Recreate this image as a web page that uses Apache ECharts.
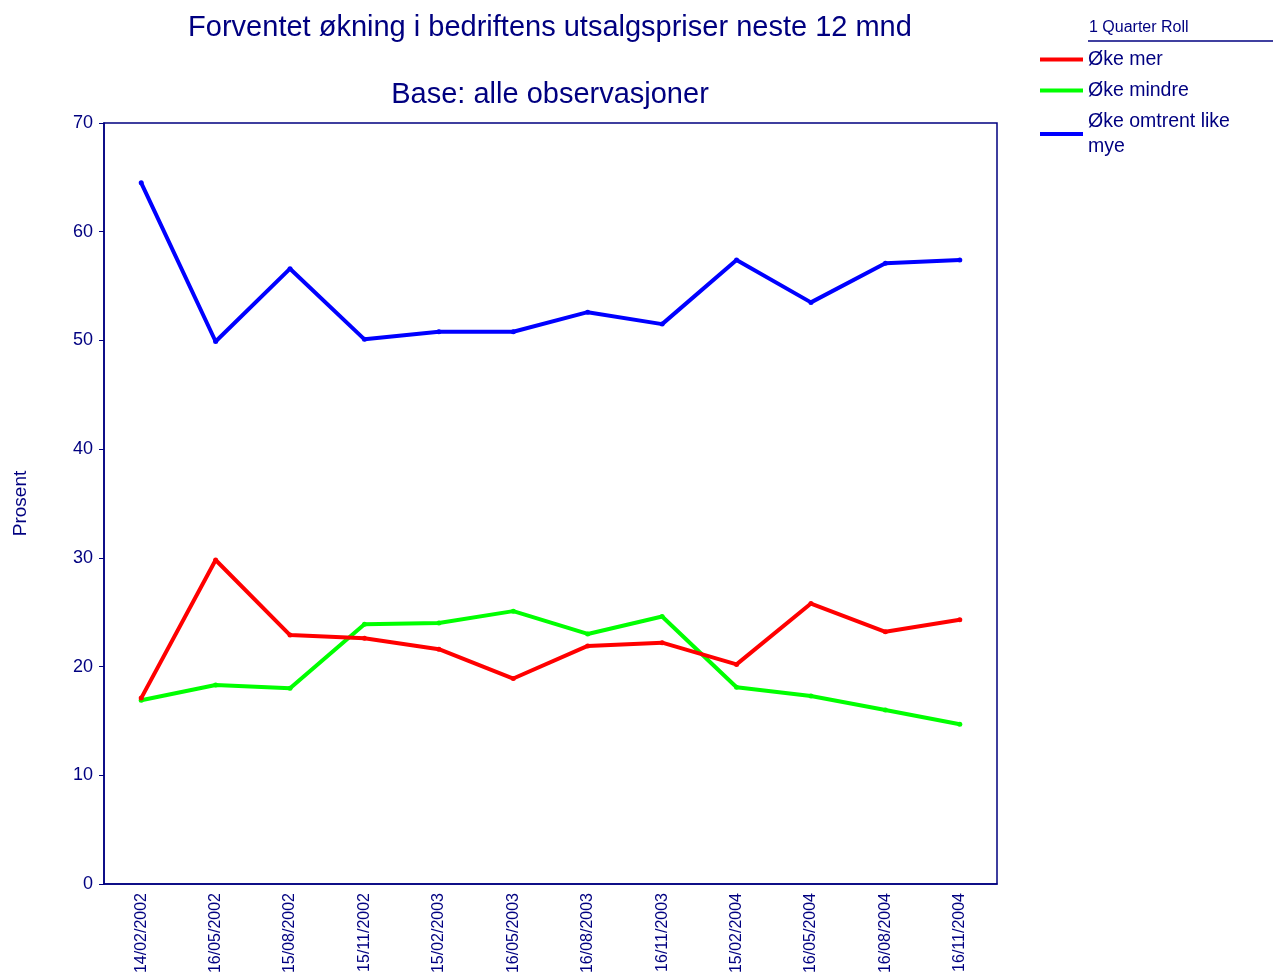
<!DOCTYPE html>
<html>
<head>
<meta charset="utf-8">
<script src="https://cdn.jsdelivr.net/npm/echarts@6/dist/echarts.min.js"></script>
<style>
html,body{margin:0;padding:0;background:#fff;}
#chart{width:1273px;height:972px;}
</style>
</head>
<body>
<div id="chart"></div>
<script>
const categories = ["14/02/2002","16/05/2002","15/08/2002","15/11/2002","15/02/2003","16/05/2003","16/08/2003","16/11/2003","15/02/2004","16/05/2004","16/08/2004","16/11/2004"];
const okeMer = [17.1, 29.8, 22.9, 22.6, 21.6, 18.9, 21.9, 22.2, 20.2, 25.8, 23.2, 24.3];
const okeMindre = [16.9, 18.3, 18.0, 23.9, 24.0, 25.1, 23.0, 24.6, 18.1, 17.3, 16.0, 14.7];
const okeOmtrent = [64.5, 49.9, 56.6, 50.1, 50.8, 50.8, 52.6, 51.5, 57.4, 53.5, 57.1, 57.4];
const seriesNames = ["Øke mer", "Øke mindre", "Øke omtrent like mye"];
const yTicks = {min: 0, max: 70, interval: 10};

const NAVY = '#000080';
const FONT = '"Liberation Sans", Arial, sans-serif';

const chart = echarts.init(document.getElementById('chart'), null, {renderer: 'canvas'});

function mkSeries(name, data, color, z) {
  return {
    name: name, type: 'line', data: data, z: z,
    symbol: 'circle', symbolSize: 5, showSymbol: true,
    lineStyle: {color: color, width: 4},
    itemStyle: {color: color},
    animation: false
  };
}

chart.setOption({
  backgroundColor: '#fff',
  textStyle: {fontFamily: FONT},
  title: [
    {text: 'Forventet økning i bedriftens utsalgspriser neste 12 mnd', left: 545, top: 8, textAlign: 'center',
     textStyle: {color: NAVY, fontSize: 29, fontWeight: 'normal', fontFamily: FONT}},
    {text: 'Base: alle observasjoner', left: 545, top: 75, textAlign: 'center',
     textStyle: {color: NAVY, fontSize: 29, fontWeight: 'normal', fontFamily: FONT}}
  ],
  legend: {
    orient: 'vertical', left: 1035, top: 42,
    icon: 'rect', itemWidth: 43, itemHeight: 4, itemGap: 6,
    data: seriesNames,
    formatter: function (n) { return n === 'Øke omtrent like mye' ? 'Øke omtrent like\nmye' : n; },
    textStyle: {color: NAVY, fontSize: 19.5, lineHeight: 25, fontFamily: FONT}
  },
  graphic: [
    {type: 'text', left: 1089, top: 20, style: {text: '1 Quarter Roll', fill: NAVY, font: '16px ' + FONT}},
    {type: 'line', shape: {x1: 1088, y1: 41, x2: 1273, y2: 41}, style: {stroke: NAVY, lineWidth: 1.5}}
  ],
  grid: {left: 104, right: 276, top: 123, bottom: 88, outerBoundsMode: 'none', containLabel: false,
         show: true, borderColor: NAVY, borderWidth: 1.5, backgroundColor: 'transparent'},
  xAxis: {
    type: 'category', data: categories, boundaryGap: true,
    axisLine: {lineStyle: {color: NAVY, width: 1.5}},
    axisTick: {alignWithLabel: true, length: 5, lineStyle: {color: NAVY}},
    axisLabel: {rotate: 90, color: NAVY, fontSize: 16, margin: 9, fontFamily: FONT, interval: 0}
  },
  yAxis: {
    type: 'value', min: yTicks.min, max: yTicks.max, interval: yTicks.interval,
    name: 'Prosent', nameLocation: 'middle', nameGap: 74, nameRotate: 90,
    nameTextStyle: {color: NAVY, fontSize: 19, fontFamily: FONT},
    axisLine: {show: true, lineStyle: {color: NAVY, width: 1.5}},
    axisTick: {show: true, length: 5, lineStyle: {color: NAVY}},
    splitLine: {show: false},
    axisLabel: {color: NAVY, fontSize: 18, margin: 11, fontFamily: FONT}
  },
  series: [
    mkSeries(seriesNames[0], okeMer, '#ff0000', 4),
    mkSeries(seriesNames[1], okeMindre, '#00ff00', 3),
    mkSeries(seriesNames[2], okeOmtrent, '#0000ff', 2)
  ]
});
</script>
</body>
</html>
